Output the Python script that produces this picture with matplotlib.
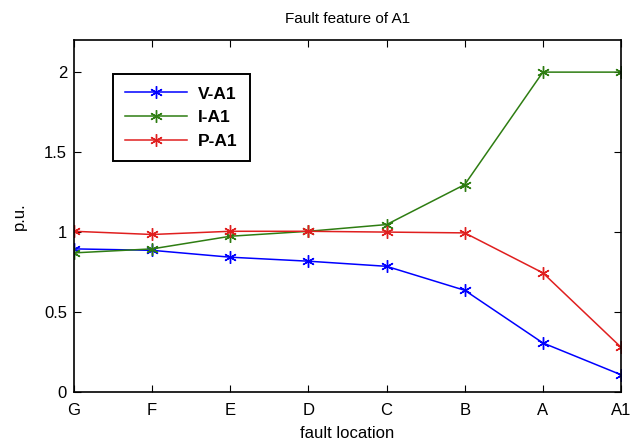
import matplotlib
matplotlib.use('Agg')
import matplotlib.pyplot as plt

plt.rcParams['font.family'] = ['Liberation Sans', 'DejaVu Sans']

locations = ['G', 'F', 'E', 'D', 'C', 'B', 'A', 'A1']
v_a1 = [0.895, 0.886, 0.843, 0.818, 0.786, 0.636, 0.307, 0.108]
i_a1 = [0.87, 0.895, 0.974, 1.005, 1.047, 1.297, 2.0, 2.0]
p_a1 = [1.005, 0.985, 1.005, 1.005, 1.0, 0.995, 0.745, 0.28]

fig = plt.figure(figsize=(6.35, 4.41), dpi=100)
ax = fig.add_axes([0.1165, 0.111, 0.8615, 0.798])

x = range(len(locations))
star = (6, 2, 0)
ax.plot(x, v_a1, color='#0000ff', marker=star, markersize=9, lw=1.1, label='V-A1')
ax.plot(x, i_a1, color='#2e7d12', marker=star, markersize=9, lw=1.1, label='I-A1')
ax.plot(x, p_a1, color='#e01f1f', marker=star, markersize=9, lw=1.1, label='P-A1')

ax.set_xlim(0, len(locations) - 1)
ax.set_ylim(0, 2.2)
ax.set_xticks(list(x))
ax.set_xticklabels(locations)
ax.set_yticks([0, 0.5, 1, 1.5, 2])
ax.set_yticklabels(['0', '0.5', '1', '1.5', '2'])
ax.tick_params(direction='in', top=True, right=True, length=5, labelsize=12)
ax.tick_params(axis='x', pad=8)
ax.tick_params(axis='y', pad=5)
for s in ax.spines.values():
    s.set_linewidth(1.2)

ax.set_title('Fault feature of A1', fontsize=11, pad=12)
ax.set_xlabel('fault location', fontsize=12, labelpad=6)
ax.set_ylabel('p.u.', fontsize=12, labelpad=12)

leg = ax.legend(loc='upper left', bbox_to_anchor=(0.071, 0.903), fontsize=12.5,
                handlelength=3.6, handletextpad=0.6, fancybox=False,
                edgecolor='black', framealpha=1, borderpad=0.7,
                labelspacing=0.5, borderaxespad=0)
leg.get_frame().set_linewidth(1.4)
for t in leg.get_texts():
    t.set_fontweight('bold')

fig.savefig('out.png', dpi=100)
